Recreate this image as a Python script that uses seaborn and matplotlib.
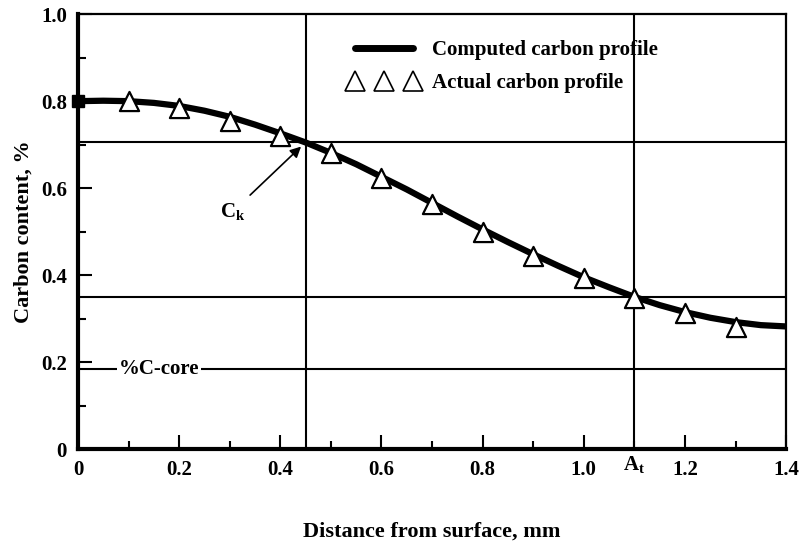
import numpy as np
import pandas as pd
import matplotlib
matplotlib.use("Agg")
import matplotlib.pyplot as plt
from matplotlib.lines import Line2D
import seaborn as sns

# computed profile
curve_x = [0.0, 0.05, 0.1, 0.15, 0.2, 0.25, 0.3, 0.35, 0.4, 0.45, 0.5, 0.55, 0.6, 0.65,
           0.7, 0.75, 0.8, 0.85, 0.9, 0.95, 1.0, 1.05, 1.1, 1.15, 1.2, 1.25, 1.3, 1.35, 1.4]
curve_c = [0.800, 0.801, 0.800, 0.796, 0.789, 0.778, 0.764, 0.746, 0.726, 0.705, 0.681, 0.655,
           0.626, 0.597, 0.566, 0.535, 0.505, 0.476, 0.448, 0.421, 0.395, 0.372, 0.350, 0.331,
           0.315, 0.302, 0.292, 0.285, 0.282]

# measured points
actual_x = [0.1, 0.2, 0.3, 0.4, 0.5, 0.6, 0.7, 0.8, 0.9, 1.0, 1.1, 1.2, 1.3]
actual_c = [0.80, 0.785, 0.755, 0.72, 0.68, 0.623, 0.563, 0.50, 0.445, 0.393, 0.347, 0.313, 0.28]

ck_x, ck_c = 0.45, 0.705
at_x, at_c = 1.1, 0.35
core_c = 0.185

sns.set_theme(style="white")
plt.rcParams["font.family"] = ["Liberation Serif", "DejaVu Serif"]
plt.rcParams["font.weight"] = "bold"
plt.rcParams["text.color"] = "black"
plt.rcParams["axes.labelcolor"] = "black"
plt.rcParams["xtick.color"] = "black"
plt.rcParams["ytick.color"] = "black"

fig = plt.figure(figsize=(8.01, 5.45), dpi=100)
ax = fig.add_axes([0.0974, 0.176, 0.884, 0.798])

curve = pd.DataFrame({"x": curve_x, "c": curve_c})
actual = pd.DataFrame({"x": actual_x, "c": actual_c})

# reference lines
for yv in [ck_c, at_c, core_c]:
    ax.axhline(yv, color="black", lw=1.5, zorder=1)
for xv in [ck_x, at_x]:
    ax.axvline(xv, color="black", lw=1.5, zorder=1)

sns.lineplot(data=curve, x="x", y="c", ax=ax, color="black", lw=4.5, zorder=3,
             estimator=None, sort=False)
sns.scatterplot(data=actual, x="x", y="c", ax=ax, marker="^", s=190,
                facecolor="white", edgecolor="black", linewidth=1.6, zorder=4)
ax.plot([0], [0.8], marker="s", color="black", ms=9, clip_on=False, zorder=5)

ax.set_xlim(0, 1.4)
ax.set_ylim(0, 1.0)
ax.set_xticks([0, 0.2, 0.4, 0.6, 0.8, 1.0, 1.2, 1.4])
ax.set_xticklabels(["0", "0.2", "0.4", "0.6", "0.8", "1.0", "1.2", "1.4"])
ax.set_yticks([0, 0.2, 0.4, 0.6, 0.8, 1.0])
ax.set_yticklabels(["0", "0.2", "0.4", "0.6", "0.8", "1.0"])
ax.set_xticks(np.arange(0.1, 1.4, 0.2), minor=True)
ax.set_yticks(np.arange(0.1, 1.0, 0.2), minor=True)
ax.tick_params(which="major", direction="in", length=10, width=1.5, labelsize=15,
               bottom=True, left=True, pad=8)
ax.tick_params(which="minor", direction="in", length=6, width=1.5, bottom=True, left=True)

for side in ["left", "bottom"]:
    ax.spines[side].set_linewidth(3)
for side in ["top", "right"]:
    ax.spines[side].set_linewidth(1.6)
for s in ax.spines.values():
    s.set_color("black")

ax.set_xlabel("Distance from surface, mm", fontsize=16, fontweight="bold", labelpad=30)
ax.set_ylabel("Carbon content, %", fontsize=16, fontweight="bold", labelpad=5)

# annotations
ax.annotate("C$_\\mathregular{k}$", xy=(ck_x - 0.005, ck_c - 0.005), xytext=(0.305, 0.545),
            fontsize=15, ha="center", va="center",
            arrowprops=dict(arrowstyle="-|>", color="black", lw=1.2, shrinkA=3,
                            mutation_scale=16))
ax.text(0.16, core_c, "%C-core", fontsize=15, ha="center", va="center",
        bbox=dict(facecolor="white", edgecolor="none", pad=1.5), zorder=2)
ax.text(at_x, -0.012, "A$_\\mathregular{t}$", fontsize=15, ha="center", va="top",
        transform=ax.transData)

handles = [Line2D([], [], color="black", lw=5),
           Line2D([], [], color="black", marker="^", ls="none", markersize=15,
                  markerfacecolor="white", markeredgewidth=1.2)]
ax.legend(handles, ["Computed carbon profile", "Actual carbon profile"],
          loc="upper left", bbox_to_anchor=(0.356, 0.983), frameon=False, fontsize=15,
          numpoints=3, handlelength=3.4, handletextpad=0.58, labelspacing=0.6)

fig.savefig("out.png", dpi=100)
